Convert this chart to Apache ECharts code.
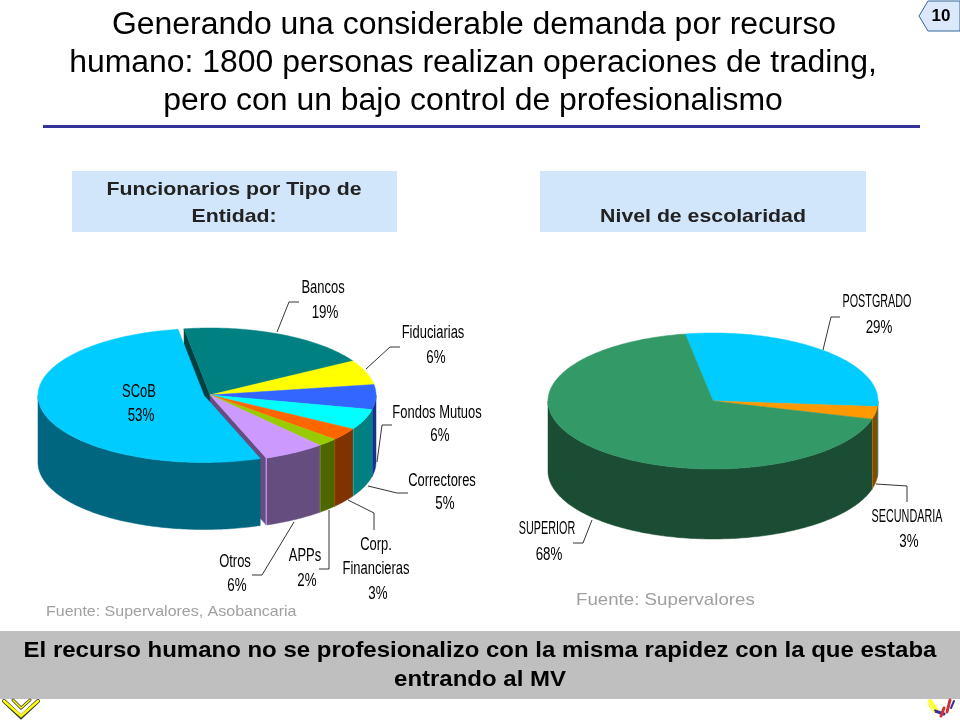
<!DOCTYPE html>
<html>
<head>
<meta charset="utf-8">
<style>html,body{margin:0;padding:0;background:#fff}#main{width:960px;height:720px}</style>
<script src="https://cdn.jsdelivr.net/npm/echarts@6/dist/echarts.min.js"></script>
</head>
<body>
<div id="main"></div>
<script>
// data
const entidadNames = ['Bancos', 'Fiduciarias', 'Fondos Mutuos', 'Correctores', 'Corp.\nFinancieras', 'APPs', 'Otros', 'SCoB'];
const entidadValues = [19, 6, 6, 5, 3, 2, 6, 53];
const escolaridadNames = ['POSTGRADO', 'SECUNDARIA', 'SUPERIOR'];
const escolaridadValues = [29, 3, 68];

const titleLines = [
  'Generando una considerable demanda por recurso',
  'humano: 1800 personas realizan operaciones de trading,',
  'pero con un bajo control de profesionalismo'
];
const FONT = '"Liberation Sans", Arial, sans-serif';

// colours: top face / wall
const entidadTop = ['#008080', '#ffff00', '#3366ff', '#00ffff', '#ff6600', '#99cc00', '#cc99ff', '#00ccff'];
const entidadWall = ['#004040', '#808000', '#1a3380', '#008080', '#803300', '#4d6600', '#664d80', '#006680'];
const escolaridadTop = ['#00ccff', '#ff9900', '#339966'];
const escolaridadWall = ['#006680', '#804c00', '#1a4d33'];

// label and leader positions, one [x, y] per text line
const entidadLabelPos = [
  [[323, 288], [325, 313]], [[433, 333], [436, 358]], [[437, 413], [440, 436]], [[442, 481], [445, 504]],
  [[376, 545], [376, 569], [378, 594]], [[305, 556], [307, 581]], [[235, 562], [237, 586]], [[139, 392], [141, 416]]
];
const entidadLeaders = [
  [[277, 332], [289, 302], [299, 302]], [[366, 369], [390, 347], [400, 347]], [[377, 462], [382, 425], [392, 425]],
  [[368, 486], [397, 493], [408, 493]], [[348, 500], [374, 513], [374, 530]], [[329, 510], [329, 569], [319, 569]],
  [[294, 522], [262, 575], [252, 575]], null
];
const escolaridadLabelPos = [[[877, 302], [879, 328]], [[907, 517], [909, 542]], [[547, 529], [549, 555]]];
const escolaridadLeaders = [
  [[823, 350], [831, 317], [840, 317]], [[876, 484], [907, 486], [907, 502]], [[592, 520], [583, 543], [573, 543]]
];

function pie3d(cfg) {
  const total = cfg.values.reduce((a, b) => a + b, 0);
  const rim = (c, t, dy) => {
    const r = t * Math.PI / 180;
    return [c[0] + cfg.rx * Math.sin(r), c[1] - cfg.ry * Math.cos(r) + (dy || 0)];
  };
  return {
    type: 'custom',
    coordinateSystem: 'none',
    silent: true,
    animation: false,
    data: cfg.values.map(v => [v]),
    renderItem: function (params, api) {
      const i = params.dataIndex;
      let before = 0;
      for (let k = 0; k < i; k++) before += cfg.values[k];
      const t0 = cfg.start + before / total * 360;
      const t1 = t0 + api.value(0) / total * 360;
      const c = i === cfg.exploded ? cfg.explodedCenter : cfg.center;
      const children = [];
      const poly = (points, fill) => children.push({
        type: 'polygon', shape: { points: points },
        style: { fill: fill, stroke: fill, lineWidth: 0.5 }
      });
      // faces opened up by the pulled out slice
      const n = cfg.values.length;
      if (cfg.exploded != null && i === (cfg.exploded + 1) % n) {
        poly([c, rim(c, t0), rim(c, t0, cfg.depth), [c[0], c[1] + cfg.depth]], cfg.wall[i]);
      }
      if (cfg.exploded != null && i === (cfg.exploded + n - 1) % n) {
        poly([c, rim(c, t1), rim(c, t1, cfg.depth), [c[0], c[1] + cfg.depth]], cfg.wall[i]);
      }
      // outer wall, front half only
      const a = Math.max(t0, 90), b = Math.min(t1, 270);
      if (b > a) {
        const upper = [], lower = [];
        for (let t = a; t < b; t += 1) {
          upper.push(rim(c, t));
          lower.unshift(rim(c, t, cfg.depth));
        }
        upper.push(rim(c, b));
        lower.unshift(rim(c, b, cfg.depth));
        poly(upper.concat(lower), cfg.wall[i]);
        if (t1 < 270) {
          children.push({
            type: 'polyline', shape: { points: [rim(c, b), rim(c, b, cfg.depth)] },
            style: { stroke: cfg.top[i], lineWidth: 1.2, fill: 'none' }
          });
        }
      }
      // top face
      const face = [c];
      for (let t = t0; t < t1; t += 1) face.push(rim(c, t));
      face.push(rim(c, t1));
      poly(face, cfg.top[i]);
      // leader
      if (cfg.leaders[i]) {
        children.push({
          type: 'polyline', shape: { points: cfg.leaders[i] },
          style: { stroke: '#000', lineWidth: 0.8, fill: 'none' }
        });
      }
      // label, name lines squeezed like the pasted picture
      const lines = cfg.names[i].split('\n').concat(api.value(0) + '%');
      lines.forEach((line, k) => {
        const pos = cfg.labelPos[i][k];
        children.push({
          type: 'text', x: pos[0], y: pos[1],
          scaleX: k === lines.length - 1 ? 0.74 : cfg.nameScale,
          style: { text: line, fontFamily: FONT, fontSize: 18, fill: '#000', align: 'center', verticalAlign: 'middle' }
        });
      });
      return { type: 'group', children: children };
    }
  };
}

const textAt = (text, x, y, size, weight, fill, align, sx) => ({
  type: 'text', x: x, y: y, z: 10, scaleX: sx || 1,
  style: { text: text, fontFamily: FONT, fontSize: size, fontWeight: weight || 'normal', fill: fill || '#000', align: align || 'center', verticalAlign: 'middle' }
});
const rect = (x, y, w, h, fill) => ({ type: 'rect', z: 1, shape: { x: x, y: y, width: w, height: h }, style: { fill: fill } });
const stroke = (points, color, width) => ({
  type: 'polyline', z: 2, shape: { points: points },
  style: { stroke: color, lineWidth: width, fill: 'none', lineCap: 'round' }
});

const chart = echarts.init(document.getElementById('main'));
chart.setOption({
  backgroundColor: '#fff',
  animation: false,
  series: [
    pie3d({
      names: entidadNames, values: entidadValues, top: entidadTop, wall: entidadWall,
      center: [210, 395], explodedCenter: [204, 395.5], exploded: 7,
      rx: 166, ry: 67, depth: 67, start: -9, nameScale: 0.72,
      labelPos: entidadLabelPos, leaders: entidadLeaders
    }),
    pie3d({
      names: escolaridadNames, values: escolaridadValues, top: escolaridadTop, wall: escolaridadWall,
      center: [713, 401], rx: 165, ry: 68, depth: 70, start: -9.7, nameScale: 0.6,
      labelPos: escolaridadLabelPos, leaders: escolaridadLeaders
    })
  ],
  graphic: [
    textAt(titleLines[0], 474, 25, 31, 'normal', '#000', 'center', 1.03),
    textAt(titleLines[1], 473, 63, 31, 'normal', '#000', 'center', 1.03),
    textAt(titleLines[2], 473, 101, 31, 'normal', '#000', 'center', 1.03),
    rect(43, 125, 877, 3, '#333399'),
    rect(72, 171, 325, 61, '#d1e6fb'),
    rect(540, 171, 326, 61, '#d1e6fb'),
    textAt('Funcionarios por Tipo de', 234, 190, 19, 'bold', '#222', 'center', 1.12),
    textAt('Entidad:', 234, 217, 19, 'bold', '#222', 'center', 1.12),
    textAt('Nivel de escolaridad', 703, 217, 19, 'bold', '#222', 'center', 1.12),
    textAt('Fuente: Supervalores, Asobancaria', 46, 612, 15, 'normal', '#a0a0a0', 'left', 1.065),
    textAt('Fuente: Supervalores', 576, 600, 17, 'normal', '#a0a0a0', 'left', 1.1),
    // little logos under the band
    stroke([[4, 701], [21, 717], [38, 701]], '#333', 4),
    stroke([[4, 701], [21, 716], [38, 701]], '#ffff00', 2.5),
    stroke([[13, 700], [21, 708], [30, 700]], '#333', 3),
    stroke([[13, 700], [21, 708], [30, 700]], '#ffff00', 1.5),
    stroke([[930, 701], [937, 711]], '#ffff33', 4),
    stroke([[935, 711], [944, 714]], '#333399', 3),
    stroke([[941, 716], [944, 708]], '#cc3333', 3),
    stroke([[950, 700], [947, 712]], '#cc3333', 3),
    stroke([[954, 701], [951, 708]], '#333399', 2),
    stroke([[928, 704], [934, 712]], '#ffff66', 2),
    rect(0, 631, 960, 68, '#bfbfbf'),
    textAt('El recurso humano no se profesionalizo con la misma rapidez con la que estaba', 480, 651, 22, 'bold', '#000', 'center', 1.09),
    textAt('entrando al MV', 480, 680, 22, 'bold', '#000', 'center', 1.09),
    {
      type: 'polygon', z: 5, shape: { points: [[919, 16], [928, 1], [960, 1], [960, 31], [928, 31]] },
      style: { fill: '#dbe9fb', stroke: '#336699', lineWidth: 1 }
    },
    textAt('10', 941, 16, 17, 'bold')
  ]
});
</script>
</body>
</html>
